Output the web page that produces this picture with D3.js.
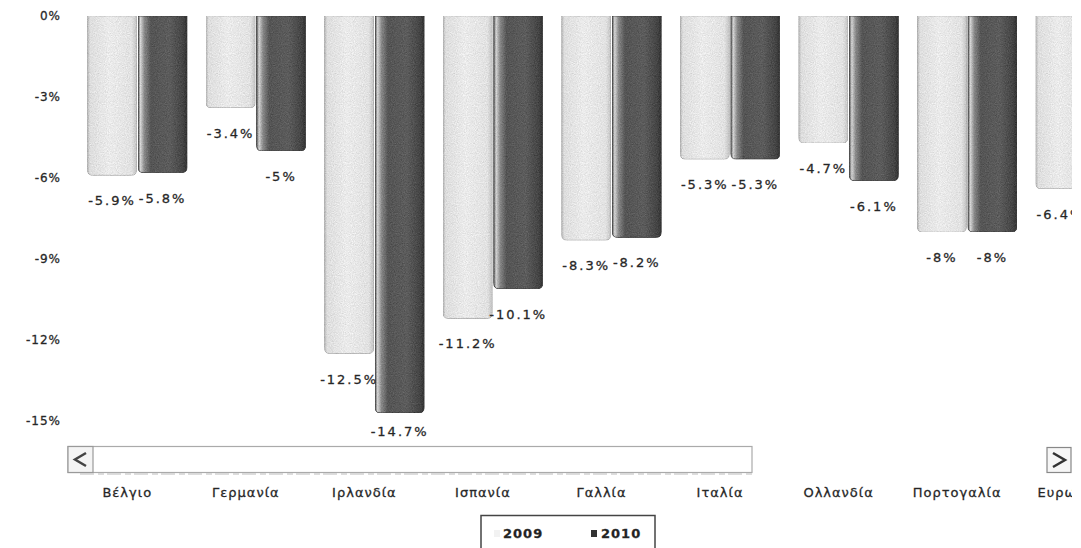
<!DOCTYPE html>
<html lang="el">
<head>
<meta charset="utf-8">
<title>Έλλειμμα 2009-2010</title>
<script src="https://d3js.org/d3.v7.min.js"></script>
<style>
  body { margin: 0; background: #fff; }
  text { font-family: "DejaVu Sans", Verdana, sans-serif; fill: #222; stroke: #333; stroke-width: 0.3px; }
</style>
</head>
<body>
<div id="chart"></div>
<script>
// data
var countries = ["Βέλγιο", "Γερμανία", "Ιρλανδία", "Ισπανία", "Γαλλία", "Ιταλία", "Ολλανδία", "Πορτογαλία", "Ευρωζώνη"];
var years = ["2009", "2010"];
var values2009 = [-5.9, -3.4, -12.5, -11.2, -8.3, -5.3, -4.7, -8, -6.4];
var values2010 = [-5.8, -5, -14.7, -10.1, -8.2, -5.3, -6.1, -8, -6.0];
var yTicks = [0, -3, -6, -9, -12, -15];

var width = 1081, height = 548;

var rows = countries.map(function(c, i) {
    return {country: c, vals: [
        {year: "2009", v: values2009[i]},
        {year: "2010", v: values2010[i]}
    ]};
});

var svg = d3.select("#chart").append("svg")
    .attr("width", width)
    .attr("height", height);

var defs = svg.append("defs");

var g09 = defs.append("linearGradient").attr("id", "g2009");
[["0%", "#b4b4b4"], ["5%", "#dedede"], ["45%", "#ebebeb"], ["90%", "#e2e2e2"], ["100%", "#c4c4c4"]]
    .forEach(function(s) { g09.append("stop").attr("offset", s[0]).attr("stop-color", s[1]); });

var g10 = defs.append("linearGradient").attr("id", "g2010");
[["0%", "#555"], ["5%", "#d4d4d4"], ["13%", "#888"], ["26%", "#555"], ["65%", "#5c5c5c"], ["92%", "#444"], ["100%", "#333"]]
    .forEach(function(s) { g10.append("stop").attr("offset", s[0]).attr("stop-color", s[1]); });

// grainy scan look
var f = defs.append("filter").attr("id", "grain")
    .attr("x", 0).attr("y", 0).attr("width", "100%").attr("height", "100%")
    .attr("color-interpolation-filters", "sRGB");
f.append("feTurbulence").attr("type", "fractalNoise").attr("baseFrequency", 0.9)
    .attr("numOctaves", 2).attr("seed", 4).attr("result", "noise");
f.append("feColorMatrix").attr("in", "noise").attr("type", "matrix")
    .attr("values", "0.33 0.33 0.33 0 0  0.33 0.33 0.33 0 0  0.33 0.33 0.33 0 0  0 0 0 0 1")
    .attr("result", "mono");
f.append("feComposite").attr("in", "SourceGraphic").attr("in2", "mono").attr("operator", "arithmetic")
    .attr("k1", 0).attr("k2", 1).attr("k3", 0.3).attr("k4", -0.15).attr("result", "mix");
f.append("feComposite").attr("in", "mix").attr("in2", "SourceGraphic").attr("operator", "in");

defs.append("clipPath").attr("id", "plotclip")
    .append("rect").attr("x", 62).attr("y", 0).attr("width", 1010).attr("height", 445);
defs.append("clipPath").attr("id", "labelclip")
    .append("rect").attr("x", 62).attr("y", 475).attr("width", 1010).attr("height", 40);

var x0 = d3.scaleBand()
    .domain(countries)
    .range([78, 1145])
    .paddingInner(0.16)
    .paddingOuter(0.08);

var x1 = d3.scaleBand()
    .domain(years)
    .range([0, x0.bandwidth()])
    .paddingInner(0.03);

var y = d3.scaleLinear()
    .domain([0, -15])
    .range([16, 421]);

// y axis, no line, no ticks
var yAxis = svg.append("g")
    .attr("transform", "translate(61,0)")
    .call(d3.axisLeft(y).tickValues(yTicks).tickSize(0).tickPadding(0)
        .tickFormat(function(d) { return d + "%"; }));
yAxis.select(".domain").remove();
yAxis.selectAll("text")
    .style("font-family", "'DejaVu Sans', Verdana, sans-serif")
    .style("font-size", "12px")
    .style("letter-spacing", "1px")
    .attr("fill", "#222");

function barPath(x, w, y0, y1, r) {
    var h = y1 - y0;
    r = Math.min(r, h, w / 2);
    return "M" + x + "," + y0 +
        "H" + (x + w) +
        "V" + (y1 - r) +
        "Q" + (x + w) + "," + y1 + " " + (x + w - r) + "," + y1 +
        "H" + (x + r) +
        "Q" + x + "," + y1 + " " + x + "," + (y1 - r) +
        "Z";
}

var plot = svg.append("g").attr("clip-path", "url(#plotclip)");

var groups = plot.selectAll(".grp")
    .data(rows)
    .enter().append("g")
    .attr("class", "grp")
    .attr("transform", function(d) { return "translate(" + x0(d.country) + ",0)"; });

groups.selectAll("path")
    .data(function(d) { return d.vals; })
    .enter().append("path")
    .attr("d", function(d) { return barPath(x1(d.year), x1.bandwidth(), y(0), y(d.v), 5); })
    .attr("fill", function(d) { return d.year === "2009" ? "url(#g2009)" : "url(#g2010)"; })
    .attr("stroke", function(d) { return d.year === "2009" ? "#c2c2c2" : "#3a3a3a"; })
    .attr("stroke-width", 0.8)
    .attr("filter", "url(#grain)");

groups.selectAll(".val")
    .data(function(d) { return d.vals; })
    .enter().append("text")
    .attr("class", "val")
    .attr("x", function(d) { return x1(d.year) + x1.bandwidth() / 2; })
    .attr("y", function(d) { return Math.min(y(d.v) + 30, 436); })
    .attr("text-anchor", "middle")
    .style("font-size", "13px")
    .style("letter-spacing", "2px")
    .text(function(d) { return d.v + "%"; });

// category labels
svg.append("g").attr("clip-path", "url(#labelclip)")
    .selectAll("text")
    .data(countries)
    .enter().append("text")
    .attr("x", function(d) { return x0(d) + x0.bandwidth() / 2 - 10; })
    .attr("y", 497)
    .attr("text-anchor", "middle")
    .style("font-size", "13px")
    .style("letter-spacing", "1px")
    .text(function(d) { return d; });

// scrollbar
var sb = svg.append("g");
sb.append("rect").attr("x", 68).attr("y", 446.5).attr("width", 684).attr("height", 26)
    .attr("fill", "#fff").attr("stroke", "#aaa").attr("stroke-width", 1.2);
sb.append("rect").attr("x", 68).attr("y", 446.5).attr("width", 25).attr("height", 26)
    .attr("fill", "#f4f4f4").attr("stroke", "#999").attr("stroke-width", 1.2);
sb.append("path").attr("d", "M86,453 L75,459.5 L86,466").attr("fill", "none")
    .attr("stroke", "#444").attr("stroke-width", 2.5);
sb.append("line").attr("x1", 80).attr("x2", 752).attr("y1", 474).attr("y2", 474)
    .attr("stroke", "#bbb").attr("stroke-dasharray", "14,4,6,3");
sb.append("rect").attr("x", 1047).attr("y", 447.5).attr("width", 24).attr("height", 25)
    .attr("fill", "#f6f6f6").attr("stroke", "#888").attr("stroke-width", 1.2);
sb.append("path").attr("d", "M1053,453 L1065,460 L1053,467").attr("fill", "none")
    .attr("stroke", "#333").attr("stroke-width", 2.5);

// legend
var lg = svg.append("g");
lg.append("rect").attr("x", 481).attr("y", 515.5).attr("width", 174).attr("height", 40)
    .attr("fill", "#fff").attr("stroke", "#444").attr("stroke-width", 1.5);
lg.selectAll(".sw")
    .data(years)
    .enter().append("rect")
    .attr("x", function(d, i) { return i === 0 ? 494 : 591; })
    .attr("y", 530).attr("width", 6).attr("height", 7)
    .attr("fill", function(d, i) { return i === 0 ? "#f2f2f2" : "#333"; });
lg.selectAll(".lt")
    .data(years)
    .enter().append("text")
    .attr("x", function(d, i) { return i === 0 ? 503 : 601; })
    .attr("y", 538)
    .style("font-size", "13px")
    .style("font-weight", "bold")
    .style("letter-spacing", "1px")
    .text(function(d) { return d; });
</script>
</body>
</html>
